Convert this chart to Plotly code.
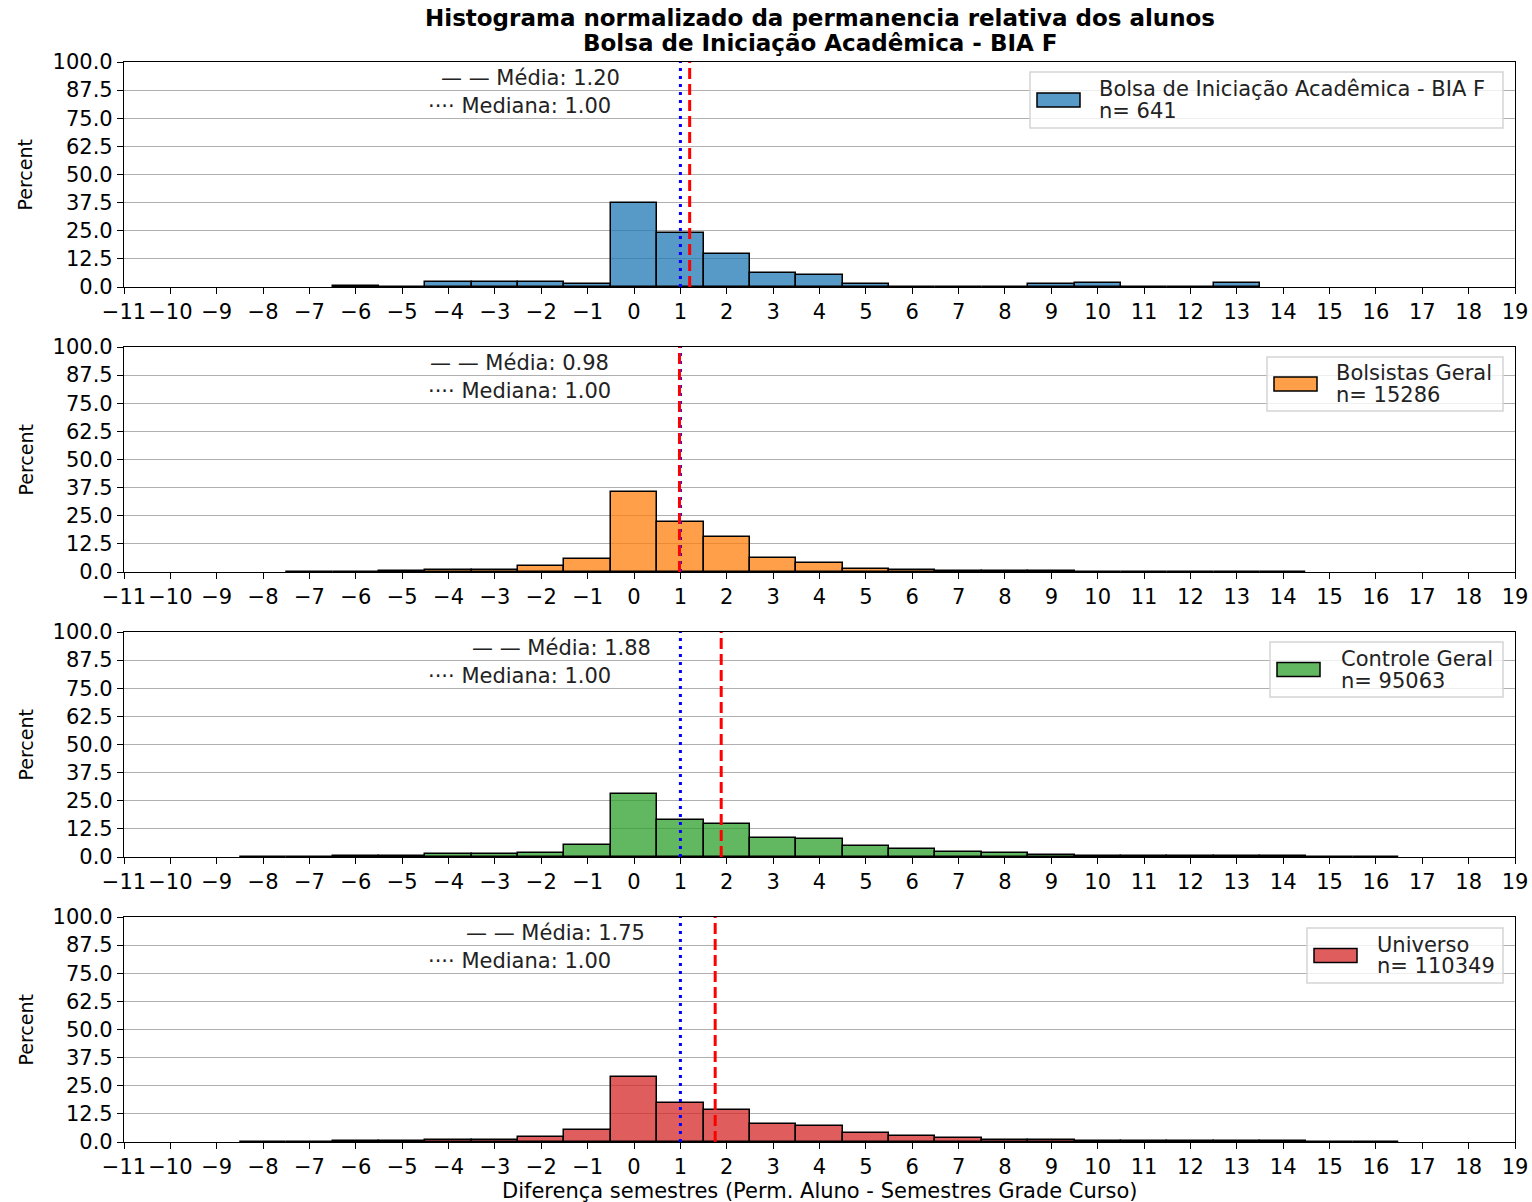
import plotly.graph_objects as go

# ---------------- data ----------------
bins = list(range(-8, 17))

names = ["Bolsa de Iniciação Acadêmica - BIA F", "Bolsistas Geral", "Controle Geral", "Universo"]
counts_n = [641, 15286, 95063, 110349]
means = [1.20, 0.98, 1.88, 1.75]
medians = [1.00, 1.00, 1.00, 1.00]

pct_bia = [None, None, 0.6, 0, 2.3, 2.3, 2.3, 1.2, 37.4, 23.8, 14.7, 6.2, 5.5, 1.2, 0, 0, 0, 1.2, 1.9, 0, 0, 1.9, None, None, None]
pct_bolsistas = [None, 0.05, 0.15, 0.4, 0.9, 0.9, 2.7, 5.6, 35.6, 22.2, 15.4, 6.2, 3.9, 1.5, 0.9, 0.4, 0.4, 0.4, 0.1, 0.1, 0.1, 0.1, 0.1, None, None]
pct_controle = [0.2, 0.2, 0.6, 0.6, 1.2, 1.2, 1.8, 5.2, 28.0, 16.3, 14.5, 8.4, 7.8, 4.7, 3.6, 2.4, 1.6, 1.0, 0.4, 0.4, 0.4, 0.4, 0.4, 0.1, 0.1]
pct_universo = [0.15, 0.15, 0.6, 0.6, 1.0, 1.0, 2.1, 5.3, 28.9, 17.3, 14.1, 8.1, 7.0, 4.0, 2.7, 1.6, 0.9, 0.9, 0.3, 0.3, 0.3, 0.3, 0.3, 0.1, 0.1]
series = [pct_bia, pct_bolsistas, pct_controle, pct_universo]

colors = ["rgba(31,119,180,0.75)", "rgba(255,127,14,0.75)", "rgba(44,160,44,0.75)", "rgba(214,39,40,0.75)"]

x_ticks = list(range(-11, 20))
x_ticktext = [(("\u2212" + str(-v)) if v < 0 else str(v)) for v in x_ticks]
y_ticks = [0, 12.5, 25, 37.5, 50, 62.5, 75, 87.5, 100]
y_ticktext = ["%.1f" % v for v in y_ticks]

title_l1 = "Histograma normalizado da permanencia relativa dos alunos"
title_l2 = "Bolsa de Iniciação Acadêmica - BIA F"
x_title = "Diferença semestres (Perm. Aluno - Semestres Grade Curso)"
y_title = "Percent"

# ---------------- layout geometry ----------------
W, H = 1532, 1202


def PX(x):
    return x / W


def PY(y):
    return 1 - y / H


x_dom = [PX(124), PX(1515)]
panels_px = [(62, 287), (347, 572), (632, 857), (917, 1142)]
# legend geometry (box left, box top, box bottom, text left)
leg_geo = [(1030, 72, 128, 1097), (1267, 357, 411, 1334), (1270, 642, 697, 1339), (1307, 928, 983, 1375)]
LEG_RIGHT = 1503
FONT = "DejaVu Sans"
FS = 21

fig = go.Figure()
layout = dict(
    width=W, height=H,
    margin=dict(l=0, r=0, t=0, b=0, autoexpand=False),
    paper_bgcolor="white", plot_bgcolor="white",
    font=dict(family=FONT, size=FS, color="black"),
    bargap=0, showlegend=False,
    shapes=[], annotations=[],
)

for i in range(4):
    k = "" if i == 0 else str(i + 1)
    xa, ya = "x" + k, "y" + k
    top, bot = panels_px[i]
    fig.add_trace(go.Bar(
        x=bins, y=series[i], width=1,
        marker=dict(color=colors[i], line=dict(color="black", width=1.5)),
        name=names[i] + " n= " + str(counts_n[i]),
        xaxis=xa, yaxis=ya,
    ))
    layout["xaxis" + k] = dict(
        domain=x_dom, anchor=ya, range=[-11, 19], automargin=False,
        tickmode="array", tickvals=x_ticks, ticktext=x_ticktext,
        ticks="outside", ticklen=6, tickwidth=1.2, tickcolor="black",
        showline=True, linecolor="black", linewidth=1.2, mirror=True,
        showgrid=False, zeroline=False,
        tickfont=dict(family=FONT, size=FS),
    )
    layout["yaxis" + k] = dict(
        domain=[PY(bot), PY(top)], anchor=xa, range=[0, 100], automargin=False,
        tickmode="array", tickvals=y_ticks, ticktext=y_ticktext,
        ticks="outside", ticklen=6, tickwidth=1.2, tickcolor="black",
        showline=True, linecolor="black", linewidth=1.2, mirror=True,
        showgrid=True, gridcolor="#b0b0b0", gridwidth=1, zeroline=False,
        tickfont=dict(family=FONT, size=FS),
    )
    # y title
    layout["annotations"].append(dict(
        xref="paper", yref="paper", x=PX(25), y=PY((top + bot) / 2), xanchor="center", yanchor="middle",
        textangle=-90, showarrow=False, text=y_title, font=dict(family=FONT, size=19)))
    # median (blue dotted) and mean (red dashed) lines
    layout["shapes"].append(dict(type="line", xref=xa, yref=ya + " domain", x0=medians[i], x1=medians[i],
                                 y0=0, y1=1, line=dict(color="blue", width=3, dash="3px,5px")))
    layout["shapes"].append(dict(type="line", xref=xa, yref=ya + " domain", x0=means[i], x1=means[i],
                                 y0=0, y1=1, line=dict(color="red", width=3, dash="11px,5px")))
    layout["annotations"].append(dict(
        xref=xa, yref=ya + " domain", x=means[i], y=0.93, xanchor="right", yanchor="middle",
        xshift=-68, showarrow=False, text="\u2014 \u2014 Média: %.2f" % means[i],
        font=dict(family=FONT, size=FS, color="#222")))
    layout["annotations"].append(dict(
        xref=xa, yref=ya + " domain", x=medians[i], y=0.805, xanchor="right", yanchor="middle",
        xshift=-67, showarrow=False, text="\u00b7\u00b7\u00b7\u00b7 Mediana: %.2f" % medians[i],
        font=dict(family=FONT, size=FS, color="#222")))
    # legend (box, patch, two text lines)
    bl, bt, bb, tl = leg_geo[i]
    mid = (bt + bb) / 2
    layout["shapes"].append(dict(type="rect", xref="paper", yref="paper",
                                 x0=PX(bl), x1=PX(LEG_RIGHT), y0=PY(bb), y1=PY(bt),
                                 fillcolor="rgba(255,255,255,0.8)", line=dict(color="#d5d5d5", width=1.5)))
    layout["shapes"].append(dict(type="rect", xref="paper", yref="paper",
                                 x0=PX(bl + 7), x1=PX(bl + 50), y0=PY(mid + 7), y1=PY(mid - 7),
                                 fillcolor=colors[i], line=dict(color="black", width=1.5)))
    layout["annotations"].append(dict(
        xref="paper", yref="paper", x=PX(tl), y=PY(mid - 11), xanchor="left", yanchor="middle",
        showarrow=False, text=names[i], font=dict(family=FONT, size=FS, color="#222")))
    layout["annotations"].append(dict(
        xref="paper", yref="paper", x=PX(tl), y=PY(mid + 11), xanchor="left", yanchor="middle",
        showarrow=False, text="n= " + str(counts_n[i]), font=dict(family=FONT, size=FS, color="#222")))

layout["annotations"].append(dict(
    xref="paper", yref="paper", x=PX(819), y=PY(1191), xanchor="center", yanchor="middle",
    showarrow=False, text=x_title, font=dict(family=FONT, size=FS)))
layout["annotations"].append(dict(
    xref="paper", yref="paper", x=PX(820), y=PY(18), xanchor="center", yanchor="middle",
    showarrow=False, text="<b>" + title_l1 + "</b>", font=dict(family=FONT, size=23)))
layout["annotations"].append(dict(
    xref="paper", yref="paper", x=PX(820), y=PY(43), xanchor="center", yanchor="middle",
    showarrow=False, text="<b>" + title_l2 + "</b>", font=dict(family=FONT, size=23)))

fig.update_layout(**layout)
fig.write_html(
    "out.html",
    config={"displayModeBar": False},
    post_script="document.body.style.margin='0';document.body.style.overflow='hidden';",
)
